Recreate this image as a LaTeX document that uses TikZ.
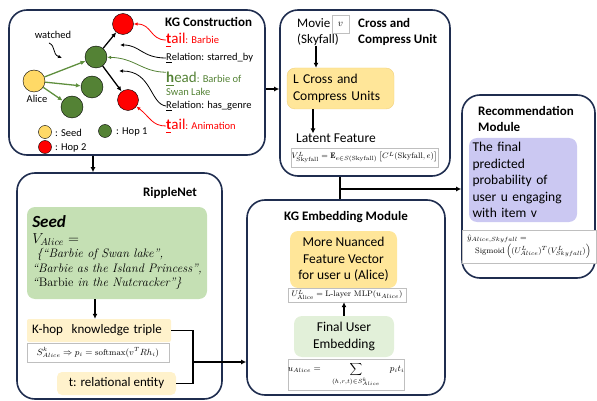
\documentclass[tikz,border=0pt]{standalone}
\usepackage{fontspec}
\usepackage{amsmath}
\usepackage{amssymb}
\usepackage{xcolor}
\usepackage{tikz}
\usetikzlibrary{positioning}
\usetikzlibrary{arrows.meta}
\setsansfont{Carlito}
\renewcommand{\familydefault}{\sfdefault}
\newcommand{\barbiefont}{\rmfamily\itshape\fontsize{12.3}{13.5}\selectfont}
\pgfdeclarelayer{nodelayer}
\pgfdeclarelayer{edgelayer}
\pgfsetlayers{nodelayer,edgelayer,main}
\definecolor{modblue}{HTML}{1F2D4F}
\definecolor{seedyellow}{HTML}{FFD966}
\definecolor{hopgreen}{HTML}{548235}
\definecolor{edgegreen}{HTML}{5F8F3E}
\definecolor{ccyellow}{HTML}{FFE699}
\definecolor{ccborder}{HTML}{F2D27E}
\definecolor{recpurple}{HTML}{CBC8F2}
\definecolor{seedgreen}{HTML}{C5E0B4}
\definecolor{tripleyellow}{HTML}{FFF2CC}
\definecolor{usergreen}{HTML}{E2F0D9}
\definecolor{formgray}{HTML}{BFBFBF}
\tikzset{
    module/.style = {draw=modblue, line width=1.6pt, rounded corners=18pt, inner sep=0pt},
    heading/.style = {inner sep=0pt, align=left, font=\fontsize{13}{16}\selectfont\bfseries},
    body/.style = {inner sep=0pt, align=left, font=\fontsize{13.5}{16.5}\selectfont},
    smalltext/.style = {inner sep=0pt, align=left, font=\fontsize{10.5}{12.5}\selectfont},
    panel/.style = {rounded corners=8pt, inner sep=0pt, font=\fontsize{13.5}{16.5}\selectfont},
    formula/.style = {draw=formgray, fill=white, inner sep=0pt, font=\fontsize{8}{10}\selectfont},
    seednode/.style = {circle, draw=black, fill=seedyellow, inner sep=0pt, minimum size=22pt},
    hopone/.style = {circle, draw=black, fill=hopgreen, inner sep=0pt, minimum size=22pt},
    hoptwo/.style = {circle, draw=black, fill=red, inner sep=0pt, minimum size=21pt},
    flow/.style = {line width=1.6pt, -{Latex[length=5pt,width=5pt]}},
    link/.style = {line width=1.6pt},
    graphedge/.style = {line width=1.3pt, -{Latex[length=5pt,width=4.5pt]}},
    pointer/.style = {line width=0.8pt, -{Latex[length=4pt,width=3.5pt]}}
}

\begin{document}
\begin{tikzpicture}[x=1pt, y=-1pt]
    \useasboundingbox (0,0) rectangle (597,401);
    \begin{pgfonlayer}{nodelayer}
        % modules
        \node [style=module, minimum width=256, minimum height=145] (0) at (137, 82.5) {};
        \node [style=module, minimum width=170, minimum height=166] (1) at (365, 93) {};
        \node [style=module, minimum width=133, minimum height=183] (2) at (528.5, 186.5) {};
        \node [style=module, minimum width=205, minimum height=226] (3) at (119.5, 286) {};
        \node [style=module, minimum width=198, minimum height=195] (4) at (346, 297.5) {};
        \node [style=heading, anchor=west] (5) at (165, 22) {KG Construction};
        \node [style=heading, anchor=west] (6) at (358, 32) {Cross and\\Compress Unit};
        \node [style=heading, anchor=west] (7) at (478, 119) {Recommendation\\Module};
        \node [style=heading] (8) at (170, 193) {RippleNet};
        \node [style=heading] (9) at (346, 217) {KG Embedding Module};

        % KG construction
        \node [style=seednode] (10) at (34, 81) {};
        \node [style=hopone] (11) at (96, 57) {};
        \node [style=hopone] (12) at (92, 87) {};
        \node [style=hopone] (13) at (72, 107) {};
        \node [style=hoptwo] (14) at (123, 24) {};
        \node [style=hoptwo] (15) at (128, 100) {};
        \node [style=smalltext] (16) at (37, 99) {Alice};
        \node [style=smalltext] (17) at (53, 35) {watched};
        \node [style=smalltext, anchor=west, text=red] (18) at (166, 40) {{\fontsize{15}{15}\selectfont\underline{\textbf{t}}ail}: Barbie};
        \node [style=smalltext, anchor=west] (19) at (166, 58) {\underline{R}elation: starred\_by};
        \node [style=smalltext, anchor=west, text=hopgreen] (20) at (166, 84) {{\fontsize{15}{15}\selectfont\underline{\textbf{h}}ead}: Barbie of\\Swan Lake};
        \node [style=smalltext, anchor=west] (21) at (166, 106) {\underline{R}elation: has\_genre};
        \node [style=smalltext, anchor=west, text=red] (22) at (166, 126) {{\fontsize{15}{15}\selectfont\underline{\textbf{t}}ail}: Animation};
        \node [style=seednode, minimum size=13pt] (23) at (45, 132) {};
        \node [style=smalltext, anchor=west] (24) at (55, 133) {: Seed};
        \node [style=hopone, minimum size=13pt] (25) at (105, 131) {};
        \node [style=smalltext, anchor=west] (26) at (116, 132) {: Hop 1};
        \node [style=hoptwo, minimum size=13pt] (27) at (45, 147) {};
        \node [style=smalltext, anchor=west] (28) at (55, 148) {: Hop 2};

        % cross and compress
        \node [style=body, font=\fontsize{13}{16}\selectfont, anchor=west] (30) at (297, 32) {Movie\\(Skyfall)};
        \node [draw=formgray, minimum width=17, minimum height=18, inner sep=0pt] (31) at (340.5, 24) {$v$};
        \node [style=panel, fill=ccyellow, draw=ccborder, minimum height=41, text width=95, inner xsep=6pt, align=left] (32) at (340.5, 88.5) {L Cross and\\Compress Units};
        \node [style=body, anchor=west] (33) at (296, 138) {Latent Feature};
        \node [style=formula, minimum width=147, minimum height=19] (34) at (364.5, 157.5) {$V^L_{\mathrm{Skyfall}} = \mathbf{E}_{e\in S(\mathrm{Skyfall})}\left[C^L(\mathrm{Skyfall}, e)\right]$};

        % recommendation
        \node [style=panel, fill=recpurple, font=\fontsize{13.5}{16.5}\selectfont, minimum height=84, text width=101, inner xsep=3.5pt, align=left] (40) at (523, 180) {The final\\predicted\\probability of\\user u engaging\\with item v};
        \node [style=formula, minimum width=134, minimum height=33, align=left] (41) at (529, 246.5) {$\hat{y}_{Alice,Skyfall} =$\\\hspace*{8pt}$\mathrm{Sigmoid}\left((U^L_{Alice})^T(V^L_{Skyfall})\right)$};

        % ripplenet
        \node [style=panel, fill=seedgreen, minimum width=180, minimum height=92, align=left] (50) at (117, 253) {{\fontsize{17}{19}\selectfont\bfseries\itshape Seed}\\[-1pt]{\fontsize{14}{15}\selectfont$V_{Alice} =$}\\[-2pt]{\barbiefont\ \{``Barbie of Swan lake'',}\\[-2pt]{\barbiefont``Barbie as the Island Princess'',}\\[-2pt]{\barbiefont``\textup{Barbie} in the Nutcracker''\}}};
        \node [style=panel, rounded corners=2pt, fill=tripleyellow, font=\fontsize{13}{15}\selectfont, minimum height=23, text width=134, inner xsep=5pt, align=left] (51) at (99, 330.5) {K-hop\ \ knowledge triple};
        \node [style=formula, font=\fontsize{8.6}{10}\selectfont, minimum width=142, minimum height=19] (52) at (98, 352.5) {$S^k_{Alice} \Rightarrow p_i = \mathrm{softmax}(v^T R h_i)$};
        \node [style=panel, rounded corners=5pt, fill=tripleyellow, font=\fontsize{13}{15}\selectfont, minimum width=119, minimum height=23] (53) at (116.5, 383.5) {t: relational entity};

        % kg embedding
        \node [style=panel, fill=ccyellow, minimum width=107, minimum height=57, align=center] (60) at (343.5, 259.5) {More Nuanced\\Feature Vector\\for user u (Alice)};
        \node [style=formula, minimum width=118, minimum height=14] (61) at (347, 295) {$U^L_{\mathrm{Alice}} = \textrm{L-layer MLP}(u_{Alice})$};
        \node [style=panel, fill=usergreen, minimum width=100, minimum height=41, align=center] (62) at (344, 336.5) {Final User\\Embedding};
        \node [style=formula, font=\fontsize{8.6}{10}\selectfont, minimum width=106, minimum height=31] (63) at (346, 374.5) {$u_{Alice} = \quad\displaystyle\sum_{(h,r,t)\in S^k_{Alice}}\quad p_i t_i$};

        \coordinate (70) at (93, 0);
        \coordinate (71) at (0, 89);
        \coordinate (72) at (340, 189);
        \coordinate (73) at (193, 362);
        \coordinate (74) at (316, 0);
        \coordinate (75) at (313, 0);
        \coordinate (76) at (95, 0);
        \coordinate (77) at (344, 0);
        \coordinate (78) at (62, 58);
        \coordinate (79) at (49, 43);
        \coordinate (80) at (120, 45);
        \coordinate (81) at (119, 71);
    \end{pgfonlayer}
    \begin{pgfonlayer}{edgelayer}
        \draw [style=flow] (0.south -| 70) to (3.north -| 70);
        \draw [style=flow] (0.east |- 71) to (1.west |- 71);
        \draw [style=link] (1.south -| 72) to (4.north -| 72);
        \draw [style=flow] (72) to (72 -| 2.west);
        \draw [style=link] (51.east) -- (51.east -| 73) -- (53.east -| 73) -- (53.east);
        \draw [style=flow] (73) to (73 -| 4.west);

        \draw [style=flow] (30.south -| 74) to (32.north -| 74);
        \draw [style=flow] (32.south -| 75) to (33.north -| 75);
        \draw [style=flow] (50.south -| 76) to (51.north -| 76);
        \draw [style=flow] (62.north -| 77) to (61.south -| 77);

        \draw [style=graphedge, edgegreen] (10) to (11);
        \draw [style=graphedge, edgegreen] (10) to (12);
        \draw [style=graphedge, edgegreen] (10) to (13);
        \draw [style=graphedge] (11) to (14);
        \draw [style=graphedge] (11) to (15);

        \draw [style=pointer] (79) .. controls (56, 46) and (52, 54) .. (78);
        \draw [style=pointer, red] (18.west) .. controls (150, 40) and (152, 24) .. (14);
        \draw [style=pointer] (19.west) .. controls (142, 58) and (140, 45) .. (80);
        \draw [style=pointer, hopgreen] (20.north west) .. controls (142, 72) and (135, 58) .. (11);
        \draw [style=pointer] (21.west) .. controls (150, 104) and (152, 71) .. (81);
        \draw [style=pointer, red] (22.west) .. controls (152, 126) and (150, 117) .. (15);
    \end{pgfonlayer}
\end{tikzpicture}
\end{document}
